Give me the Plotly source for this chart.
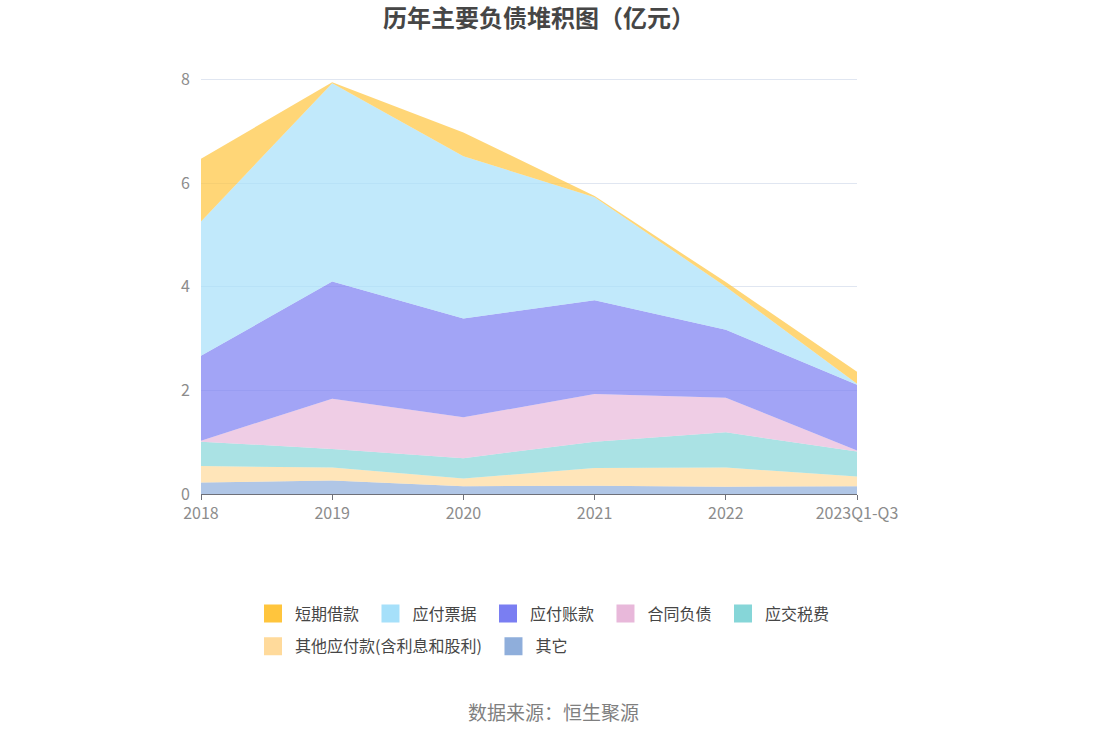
import plotly.graph_objects as go

# 历年主要负债（亿元）
periods = ["2018", "2019", "2020", "2021", "2022", "2023Q1-Q3"]

other = [0.22, 0.26, 0.15, 0.16, 0.14, 0.15]              # 其它
other_payables = [0.32, 0.25, 0.15, 0.34, 0.37, 0.19]     # 其他应付款(含利息和股利)
taxes_payable = [0.47, 0.36, 0.39, 0.51, 0.68, 0.48]      # 应交税费
contract_liab = [0.02, 0.97, 0.79, 0.92, 0.67, 0.02]      # 合同负债
accounts_payable = [1.64, 2.26, 1.91, 1.81, 1.31, 1.27]   # 应付账款
notes_payable = [2.59, 3.83, 3.13, 1.99, 0.83, 0.02]      # 应付票据
short_loans = [1.21, 0.02, 0.46, 0.02, 0.09, 0.23]        # 短期借款

# bottom of the stack first: name, values, colour, legend, legend rank
series = [
    ("其它", other, (143, 174, 219), "legend2", 2),
    ("其他应付款(含利息和股利)", other_payables, (255, 218, 155), "legend2", 1),
    ("应交税费", taxes_payable, (134, 214, 216), "legend", 5),
    ("合同负债", contract_liab, (232, 184, 218), "legend", 4),
    ("应付账款", accounts_payable, (122, 126, 242), "legend", 3),
    ("应付票据", notes_payable, (166, 224, 250), "legend", 2),
    ("短期借款", short_loans, (255, 197, 61), "legend", 1),
]

font_family = "Noto Sans CJK SC, Noto Sans, sans-serif"

fig = go.Figure()
for name, vals, rgb, leg, rank in series:
    solid = "rgb(%d,%d,%d)" % rgb
    fig.add_trace(go.Scatter(
        x=periods, y=vals, name=name,
        stackgroup="debt", mode="none",
        fillcolor="rgba(%d,%d,%d,0.7)" % rgb,
        legendgroup=name, showlegend=False,
        hovertemplate="%{x}<br>" + name + ": %{y:.2f}亿元<extra></extra>",
    ))
    # legend swatch only
    fig.add_trace(go.Scatter(
        x=[None], y=[None], name=name, mode="markers",
        marker=dict(symbol="square", size=16, color=solid,
                    line=dict(width=2, color=solid)),
        legendgroup=name, legend=leg, legendrank=rank, hoverinfo="skip",
    ))

legend_style = dict(
    orientation="h", xanchor="left", yanchor="middle",
    font=dict(size=16, color="#464646", family=font_family),
    itemwidth=34, traceorder="normal", bgcolor="rgba(0,0,0,0)",
)

fig.update_layout(
    width=1106, height=737,
    margin=dict(l=201, r=249, t=78.45, b=243),
    paper_bgcolor="white", plot_bgcolor="white",
    font=dict(family=font_family, size=16, color="#8C8C8C"),
    title=dict(
        text="<b>历年主要负债堆积图（亿元）</b>",
        x=0.4873, xanchor="center", y=0.9742, yanchor="middle",
        font=dict(size=24, color="#464646", family=font_family),
    ),
    legend=dict(legend_style, x=0.0762, y=-0.2874, entrywidth=68.5),
    legend2=dict(legend_style, x=0.0762, y=-0.366, entrywidth=191.5),
    showlegend=True,
)

fig.update_xaxes(
    type="category", range=[0, 5],
    showgrid=False, showline=True, linecolor="#6E7079", linewidth=1,
    ticks="outside", ticklen=5, tickcolor="#6E7079",
    tickfont=dict(size=16, color="#8C8C8C"),
)
fig.update_yaxes(
    range=[0, 8.03], tickvals=[0, 2, 4, 6, 8], showline=False, zeroline=False,
    showgrid=True, gridcolor="#E0E6F1", gridwidth=1,
    tickfont=dict(size=16, color="#8C8C8C"), ticks="", ticklabelstandoff=10,
)

fig.add_annotation(
    text="数据来源：恒生聚源", xref="paper", yref="paper",
    x=0.5366, y=-0.524, xanchor="center", yanchor="middle", showarrow=False,
    font=dict(size=19, color="#7F7F7F", family=font_family),
)

# drop the browser's default body margin so the figure sits at the page corner
fig.write_html(
    "out.html",
    config={"displayModeBar": False},
    post_script="document.body.style.margin = '0';",
)
